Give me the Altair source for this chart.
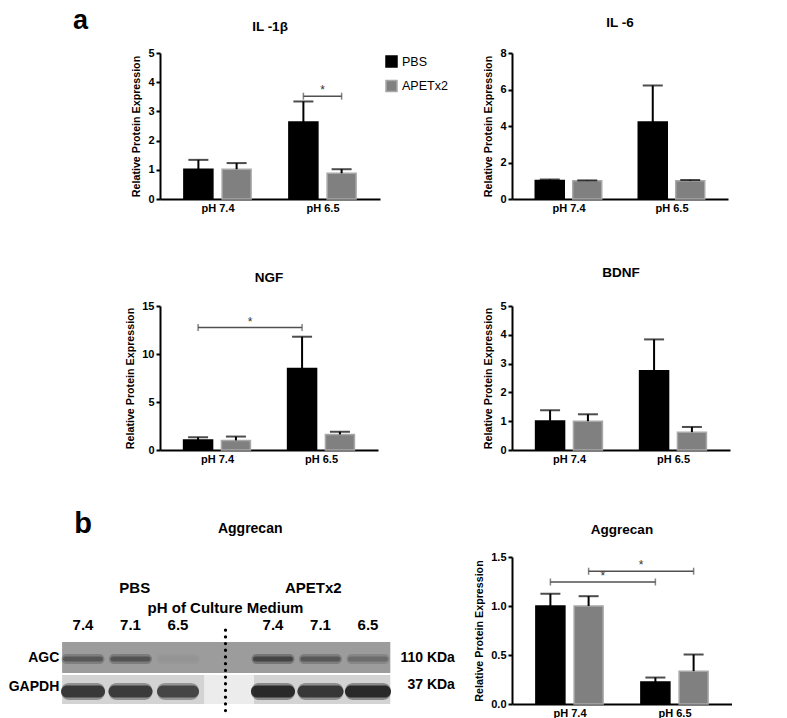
import json
import altair as alt
import pandas as pd

FONT = "Liberation Sans"

# ---------------- data ----------------
conditions = ["pH 7.4", "pH 6.5"]
groups = ["PBS", "APETx2"]

il1b_pbs = [1.02, 2.64]
il1b_pbs_sem = [0.32, 0.70]
il1b_apx = [1.02, 0.88]
il1b_apx_sem = [0.21, 0.14]

il6_pbs = [1.02, 4.22]
il6_pbs_sem = [0.05, 2.00]
il6_apx = [1.00, 1.00]
il6_apx_sem = [0.02, 0.04]

ngf_pbs = [1.03, 8.50]
ngf_pbs_sem = [0.30, 3.30]
ngf_apx = [1.00, 1.62]
ngf_apx_sem = [0.40, 0.28]

bdnf_pbs = [1.01, 2.75]
bdnf_pbs_sem = [0.37, 1.09]
bdnf_apx = [1.00, 0.62]
bdnf_apx_sem = [0.24, 0.18]

agg_pbs = [1.00, 0.225]
agg_pbs_sem = [0.125, 0.045]
agg_apx = [1.00, 0.335]
agg_apx_sem = [0.10, 0.17]

# significance brackets: (from condition, from group, to condition, to group, level)
il1b_sig = [("pH 6.5", "PBS", "pH 6.5", "APETx2", 3.52)]
ngf_sig = [("pH 7.4", "PBS", "pH 6.5", "PBS", 12.75)]
agg_sig = [("pH 7.4", "PBS", "pH 6.5", "PBS", 1.245),
           ("pH 7.4", "APETx2", "pH 6.5", "APETx2", 1.355)]

# western blot (lane / row units)
lane_labels = ["7.4", "7.1", "6.5", "7.4", "7.1", "6.5"]
lane_pos = [0, 1, 2, 4, 5, 6]
agc_density = [0.62, 0.66, 0.06, 0.82, 0.62, 0.42]
gapdh_density = [0.93, 0.91, 0.84, 1.00, 0.94, 1.00]
gapdh_width = [44, 44, 42, 44, 46, 46]
strip_names = ["AGC", "GAPDH"]
strip_lane_start = [-0.44, -0.44]
strip_lane_end = [6.47, 6.47]
strip_row_top = [-0.516, 0.548]
strip_row_bottom = [0.484, 1.484]
empty_lane = [2.55, 3.6]
divider_lane = [3.0]
divider_rows = [-0.9, 1.77]
group_labels = ["PBS", "APETx2"]
group_label_lane = [1.09, 4.85]
row_label_rows = [0.0, 0.94]
kda_labels = ["110 KDa", "37 KDa"]
kda_rows = [0.0, 0.87]

OFF = 0.182
cond_js = json.dumps(conditions)


def xpos(cf, gf):
    return f"indexof({cond_js}, datum.{cf}) + (datum.{gf} == 'PBS' ? -{OFF} : {OFF})"


def bar_panel(title, pbs, pbs_sem, apx, apx_sem, ymax, yticks, yfmt, sig, w, h, leg_xy, toff):
    df = pd.DataFrame({
        "cond": conditions + conditions,
        "group": [groups[0]] * 2 + [groups[1]] * 2,
        "mean": pbs + apx,
        "sem": pbs_sem + apx_sem,
    })
    base = alt.Chart(df).transform_calculate(
        xp=xpos("cond", "group"), upper="datum.mean + datum.sem")
    xscale = alt.Scale(domain=[-0.5, 1.5], nice=False, zero=False)
    yscale = alt.Scale(domain=[0, ymax], nice=False, zero=True)
    xaxis = alt.Axis(values=[0, 1], labelExpr=f"{cond_js}[datum.value]", title=None,
                     ticks=False, grid=False, domainColor="black", domainWidth=2,
                     labelFont=FONT, labelFontWeight="bold", labelFontSize=11,
                     labelColor="black", labelPadding=3, labelFlush=False)
    yaxis = alt.Axis(values=yticks, format=yfmt, title="Relative Protein Expression",
                     grid=False, domainColor="black", domainWidth=2, tickColor="black",
                     tickWidth=2, tickSize=4, labelFont=FONT, labelFontWeight="bold",
                     labelFontSize=11, labelColor="black", labelPadding=2,
                     titleFont=FONT, titleFontWeight="bold", titleFontSize=10.7,
                     titleColor="black", titlePadding=6)
    legend = alt.Legend(title=None, orient="none", legendX=leg_xy[0], legendY=leg_xy[1],
                        symbolType="square", symbolSize=121, symbolStrokeWidth=1.5,
                        labelFont=FONT, labelFontSize=12.5, labelColor="black",
                        rowPadding=7.5, padding=0, labelOffset=4)

    def X(f):
        return alt.X(f, scale=xscale, axis=xaxis)

    def Y(f):
        return alt.Y(f, scale=yscale, axis=yaxis)

    bars = base.mark_bar(size=29, strokeWidth=1.5).encode(
        x=X("xp:Q"), y=Y("mean:Q"),
        color=alt.Color("group:N", scale=alt.Scale(domain=groups, range=["#000000", "#808080"]),
                        legend=legend),
        stroke=alt.Stroke("group:N", scale=alt.Scale(domain=groups, range=["#000000", "#a8a8a8"]),
                          legend=legend),
    )
    err = base.mark_rule(color="black", strokeWidth=2).encode(
        x=X("xp:Q"), y=Y("mean:Q"), y2="upper:Q")
    cap = base.mark_tick(orient="horizontal", size=20, thickness=2, color="black").encode(
        x=X("xp:Q"), y=Y("upper:Q"))
    layers = [bars, err, cap]
    if sig:
        sdf = pd.DataFrame(sig, columns=["c1", "g1", "c2", "g2", "level"])
        sb = alt.Chart(sdf).transform_calculate(
            xa=xpos("c1", "g1"), xb=xpos("c2", "g2"), xm="(datum.xa + datum.xb) / 2")
        layers += [
            sb.mark_rule(color="#505050", strokeWidth=1.5).encode(
                x=X("xa:Q"), x2="xb:Q", y=Y("level:Q")),
            sb.mark_tick(orient="vertical", size=7, thickness=1.5, color="#505050").encode(
                x=X("xa:Q"), y=Y("level:Q")),
            sb.mark_tick(orient="vertical", size=7, thickness=1.5, color="#505050").encode(
                x=X("xb:Q"), y=Y("level:Q")),
            sb.mark_text(text="*", dy=-6, fontSize=12, font=FONT, color="#333333").encode(
                x=X("xm:Q"), y=Y("level:Q")),
        ]
    return alt.layer(*layers).properties(
        width=w, height=h,
        title=alt.TitleParams(title, font=FONT, fontSize=13.5, fontWeight="bold",
                              color="black", offset=toff, anchor="middle"))


p1 = bar_panel("IL -1β", il1b_pbs, il1b_pbs_sem, il1b_apx, il1b_apx_sem, 5, [0, 1, 2, 3, 4, 5], "d",
               il1b_sig, 220, 146, (225, 2), 14)
p2 = bar_panel("IL -6", il6_pbs, il6_pbs_sem, il6_apx, il6_apx_sem, 8, [0, 2, 4, 6, 8], "d",
               None, 216, 146, (198, 12), 18)
p3 = bar_panel("NGF", ngf_pbs, ngf_pbs_sem, ngf_apx, ngf_apx_sem, 15, [0, 5, 10, 15], "d",
               ngf_sig, 218, 144, (205, 1), 16)
p4 = bar_panel("BDNF", bdnf_pbs, bdnf_pbs_sem, bdnf_apx, bdnf_apx_sem, 5, [0, 1, 2, 3, 4, 5], "d",
               None, 218, 144, (218, 3), 21)
p6 = bar_panel("Aggrecan", agg_pbs, agg_pbs_sem, agg_apx, agg_apx_sem, 1.5, [0, 0.5, 1.0, 1.5], ".1f",
               agg_sig, 220, 147, (215, -7), 15)

# ---------------- western blot ----------------
lane_scale = alt.Scale(domain=[1.621, 6.253], nice=False, zero=False)
row_scale = alt.Scale(domain=[-3.258, 1.839], nice=False, zero=False, reverse=True)


def LX(f):
    return alt.X(f, scale=lane_scale, axis=None)


def RY(f):
    return alt.Y(f, scale=row_scale, axis=None)


strips = pd.DataFrame({"name": strip_names, "x0": strip_lane_start, "x1": strip_lane_end,
                       "y0": strip_row_top, "y1": strip_row_bottom})
strip_layer = alt.Chart(strips).mark_rect().encode(
    x=LX("x0:Q"), x2="x1:Q", y=RY("y0:Q"), y2="y1:Q",
    color=alt.Color("name:N", scale=alt.Scale(domain=strip_names, range=["#9c9c9c", "#d3d3d3"]),
                    legend=None))
empty_df = pd.DataFrame({"x0": [empty_lane[0]], "x1": [empty_lane[1]],
                         "y0": [strip_row_top[1]], "y1": [strip_row_bottom[1]]})
empty_layer = alt.Chart(empty_df).mark_rect(color="#ececec").encode(
    x=LX("x0:Q"), x2="x1:Q", y=RY("y0:Q"), y2="y1:Q")

agc_df = pd.DataFrame({"lane": lane_pos, "density": agc_density, "row": [0.03] * 6})
gapdh_df = pd.DataFrame({"lane": lane_pos, "density": gapdh_density, "w": gapdh_width,
                         "row": [1.08] * 6})
agc_color = alt.Color("density:Q", scale=alt.Scale(domain=[0, 1], range=["#9c9c9c", "#1a1a1a"]),
                      legend=None)
gapdh_color = alt.Color("density:Q", scale=alt.Scale(domain=[0, 1], range=["#d3d3d3", "#000000"]),
                        legend=None)
agc_halo = alt.Chart(agc_df).mark_tick(orient="horizontal", size=43, thickness=10,
                                       cornerRadius=5, opacity=0.35).encode(
    x=LX("lane:Q"), y=RY("row:Q"), color=agc_color)
agc_band = alt.Chart(agc_df).mark_tick(orient="horizontal", size=40, thickness=5,
                                       cornerRadius=2.5).encode(
    x=LX("lane:Q"), y=RY("row:Q"), color=agc_color)
gapdh_halo = alt.Chart(gapdh_df).mark_tick(orient="horizontal", thickness=17,
                                           cornerRadius=8, opacity=0.35).encode(
    x=LX("lane:Q"), y=RY("row:Q"), size=alt.Size("w:Q", scale=None, legend=None),
    color=gapdh_color)
gapdh_band = alt.Chart(gapdh_df).mark_tick(orient="horizontal", thickness=12,
                                           cornerRadius=6).encode(
    x=LX("lane:Q"), y=RY("row:Q"), size=alt.Size("w:Q", scale=None, legend=None),
    color=gapdh_color)

div_df = pd.DataFrame({"lane": divider_lane, "top": [divider_rows[0]], "bottom": [divider_rows[1]]})
divider = alt.Chart(div_df).mark_rule(color="black", strokeWidth=3.2, strokeDash=[0.1, 6.6],
                                      strokeCap="round").encode(
    x=LX("lane:Q"), y=RY("top:Q"), y2="bottom:Q")

txt = dict(font=FONT, fontWeight="bold", color="black")
lanes_txt = alt.Chart(pd.DataFrame({"lane": lane_pos, "t": lane_labels, "row": [-0.9] * 6})).mark_text(
    fontSize=15, baseline="alphabetic", **txt).encode(x=LX("lane:Q"), y=RY("row:Q"), text="t:N")
grp_txt = alt.Chart(pd.DataFrame({"lane": group_label_lane, "t": group_labels,
                                  "row": [-2.1] * 2})).mark_text(
    fontSize=15, baseline="alphabetic", **txt).encode(x=LX("lane:Q"), y=RY("row:Q"), text="t:N")
ph_txt = alt.Chart(pd.DataFrame({"lane": [3.0], "t": ["pH of Culture Medium"], "row": [-1.45]})).mark_text(
    fontSize=15, baseline="alphabetic", **txt).encode(x=LX("lane:Q"), y=RY("row:Q"), text="t:N")
rowlab_txt = alt.Chart(pd.DataFrame({"lane": [-0.5] * 2, "t": strip_names,
                                     "row": row_label_rows})).mark_text(
    fontSize=14, baseline="middle", align="right", **txt).encode(
    x=LX("lane:Q"), y=RY("row:Q"), text="t:N")
kda_txt = alt.Chart(pd.DataFrame({"lane": [7.83] * 2, "t": kda_labels, "row": kda_rows})).mark_text(
    fontSize=14, baseline="middle", align="right", **txt).encode(
    x=LX("lane:Q"), y=RY("row:Q"), text="t:N")
b_txt = alt.Chart(pd.DataFrame({"lane": [0.0], "t": ["b"], "row": [-4.03]})).mark_text(
    fontSize=29, baseline="alphabetic", **txt).encode(x=LX("lane:Q"), y=RY("row:Q"), text="t:N")
aggt_txt = alt.Chart(pd.DataFrame({"lane": [3.52], "t": ["Aggrecan"], "row": [-4.03]})).mark_text(
    fontSize=14, baseline="alphabetic", **txt).encode(x=LX("lane:Q"), y=RY("row:Q"), text="t:N")

blot = alt.layer(strip_layer, empty_layer, agc_halo, agc_band, gapdh_halo, gapdh_band, divider,
                 lanes_txt, grp_txt, ph_txt, rowlab_txt, kda_txt, b_txt, aggt_txt).resolve_scale(
    color="independent").properties(width=220, height=158)

chart = alt.concat(
    p1, p2, p3, p4, blot, p6,
    columns=2, spacing={"row": 107, "column": 132}, bounds="flush",
).properties(
    padding={"top": -2, "left": 0, "right": 0, "bottom": 0},
    title=alt.TitleParams("a", anchor="start", frame="group", dx=-87, offset=-19,
                          fontSize=27, font=FONT, fontWeight="bold", color="black"),
).configure_view(stroke=None)

chart.save("out.html", embed_options={"renderer": "svg", "actions": False})
